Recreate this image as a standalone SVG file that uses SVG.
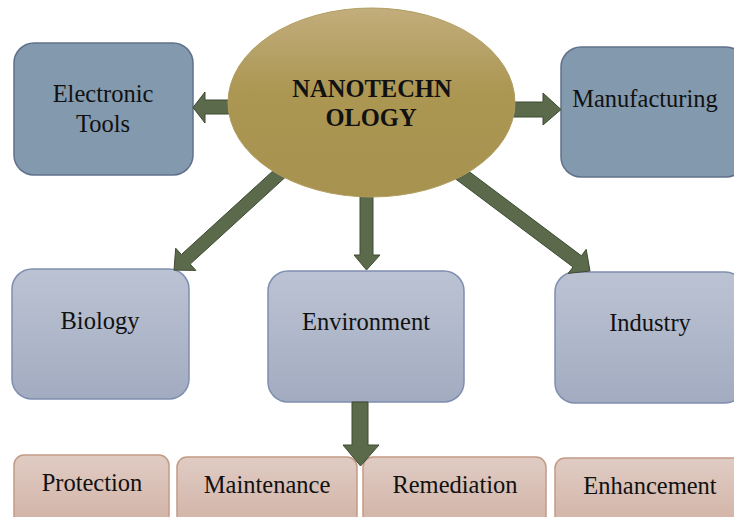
<svg xmlns="http://www.w3.org/2000/svg" width="734" height="517" viewBox="0 0 734 517">
<defs>
<linearGradient id="gEll" x1="0" y1="0" x2="0" y2="1">
<stop offset="0" stop-color="#c2ad7d"/>
<stop offset="0.45" stop-color="#ab9652"/>
<stop offset="1" stop-color="#a89250"/>
</linearGradient>
<linearGradient id="gBlue" x1="0" y1="0" x2="0" y2="1">
<stop offset="0" stop-color="#bbc3d3"/>
<stop offset="1" stop-color="#a3abc1"/>
</linearGradient>
<linearGradient id="gPink" x1="0" y1="0" x2="0" y2="1">
<stop offset="0" stop-color="#e0ccc4"/>
<stop offset="1" stop-color="#d1b1a4"/>
</linearGradient>
</defs>
<style>
.dark{fill:#8299ae;stroke:#5f7189;stroke-width:1.5}
.light{fill:url(#gBlue);stroke:#7f8fb0;stroke-width:1.5}
.pink{fill:url(#gPink);stroke:#c39a85;stroke-width:1.5}
.arr{fill:#5b6a4a;stroke:#3e4a33;stroke-width:1;stroke-linejoin:miter}
text{font-family:"Liberation Serif","Times New Roman",serif;font-size:24.5px;fill:#111;text-anchor:middle}
.title{font-weight:bold;font-size:24.5px}
</style>
<rect width="734" height="517" fill="#ffffff"/>
<g id="electronic-tools">
<rect class="dark" x="14" y="43" width="179" height="132" rx="20"/>
<text x="103" y="102">Electronic</text>
<text x="103" y="132">Tools</text>
</g>
<g id="manufacturing">
<rect class="dark" x="561" y="47" width="185" height="130" rx="20"/>
<text x="645" y="107">Manufacturing</text>
</g>
<g id="biology">
<rect class="light" x="12" y="269" width="177" height="130" rx="20"/>
<text x="100" y="329">Biology</text>
</g>
<g id="environment">
<rect class="light" x="268" y="271" width="196" height="131" rx="20"/>
<text x="366" y="330">Environment</text>
</g>
<g id="industry">
<rect class="light" x="555" y="272" width="190" height="131" rx="20"/>
<text x="650" y="331">Industry</text>
</g>
<g id="protection">
<rect class="pink" x="14" y="455" width="155" height="72" rx="10"/>
<text x="92" y="491">Protection</text>
</g>
<g id="maintenance">
<rect class="pink" x="177" y="457" width="180" height="72" rx="10"/>
<text x="267" y="493">Maintenance</text>
</g>
<g id="remediation">
<rect class="pink" x="363" y="457" width="183" height="72" rx="10"/>
<text x="455" y="493">Remediation</text>
</g>
<g id="enhancement">
<rect class="pink" x="555" y="458" width="190" height="72" rx="10"/>
<text x="650" y="494">Enhancement</text>
</g>
<g id="connectors">
<polygon class="arr" points="240,100 205,100 205,92 193,107.5 205,123 205,114 240,114"/>
<polygon class="arr" points="500,102 543,102 543,93 561,109.5 543,125 543,117 500,117"/>
<polygon class="arr" points="360,180 373,180 373,255 380,255 366.5,270 354,255 360,255"/>
<polygon class="arr" points="295.6,150.2 181.4,254.5 175.7,248.2 174,270.1 195.9,270.4 190.2,264.1 304.4,159.8"/>
<polygon class="arr" points="437.4,147.8 581.4,255.8 586.2,249.4 590,271 568.2,273.4 573,267 429,159"/>
<polygon class="arr" points="352,402 368,402 368,445 379,445 360.5,466 343,445 352,445"/>
</g>
<g id="nanotechnology">
<ellipse cx="371.5" cy="102.5" rx="143.5" ry="94.5" fill="url(#gEll)" stroke="#b19d60" stroke-width="1"/>
<text class="title" x="372" y="97">NANOTECHN</text>
<text class="title" x="371" y="126">OLOGY</text>
</g>
</svg>
